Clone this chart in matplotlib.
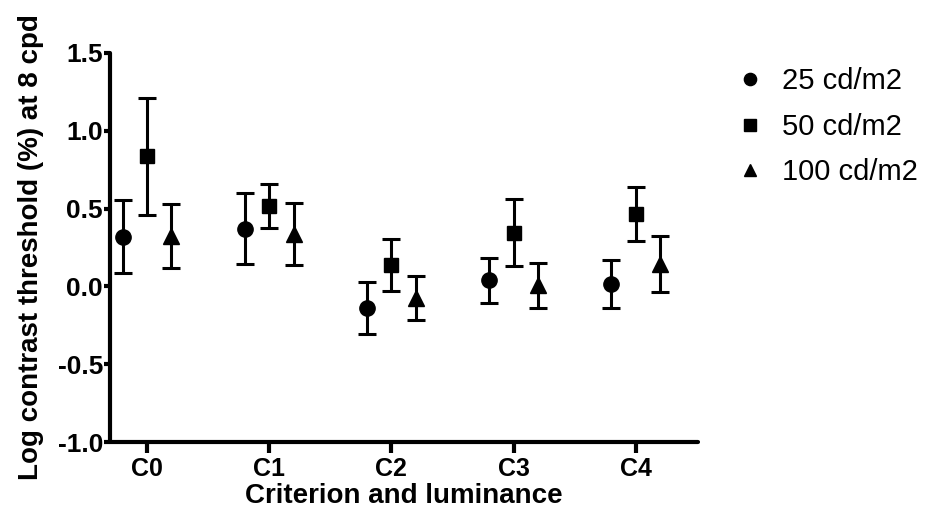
import matplotlib
matplotlib.use("Agg")
import matplotlib.pyplot as plt
import numpy as np

plt.rcParams['font.family'] = ['Liberation Sans', 'DejaVu Sans']

criteria = ["C0", "C1", "C2", "C3", "C4"]
series_labels = ["25 cd/m2", "50 cd/m2", "100 cd/m2"]

mean_25 = [0.32, 0.37, -0.14, 0.04, 0.015]
err_25 = [0.235, 0.228, 0.169, 0.144, 0.156]

mean_50 = [0.835, 0.515, 0.136, 0.345, 0.465]
err_50 = [0.378, 0.14, 0.168, 0.215, 0.175]

mean_100 = [0.325, 0.335, -0.074, 0.008, 0.147]
err_100 = [0.206, 0.2, 0.142, 0.144, 0.18]

yticks = [-1.0, -0.5, 0.0, 0.5, 1.0, 1.5]
ytick_labels = ["-1.0", "-0.5", "0.0", "0.5", "1.0", "1.5"]

fig = plt.figure(figsize=(9.29, 5.27), dpi=100)
ax = fig.add_axes([110 / 929, 1 - 442 / 527, (698 - 110) / 929, (442 - 53) / 527])

x = np.arange(len(criteria))
offsets = [-0.2, 0.0, 0.2]
markers = ["o", "s", "^"]
sizes = [11, 10.5, 11]
handles = []
for means, errs, off, mk, ms, lab in zip(
        [mean_25, mean_50, mean_100], [err_25, err_50, err_100],
        offsets, markers, sizes, series_labels):
    ax.errorbar(x + off, means, yerr=errs, fmt=mk, color="black",
                markersize=ms, elinewidth=2.2, capsize=6.2, capthick=2.2,
                label=lab)
    handles.append(ax.plot([], [], mk, color="black", markersize=ms * 0.8, label=lab)[0])

ax.set_xlim(-0.303, 4.51)
ax.set_ylim(-1.0, 1.5)
ax.set_xticks(x)
ax.set_xticklabels(criteria)
ax.set_yticks(yticks)
ax.set_yticklabels(ytick_labels)

for side in ["top", "right"]:
    ax.spines[side].set_visible(False)
for side in ["left", "bottom"]:
    ax.spines[side].set_linewidth(3)
    ax.spines[side].set_capstyle("round")

ax.tick_params(axis="y", direction="out", length=4, width=3, labelsize=19, pad=1)
ax.tick_params(axis="x", direction="out", length=8, width=3, labelsize=18, pad=3)
for lbl in ax.get_xticklabels() + ax.get_yticklabels():
    lbl.set_fontweight("bold")

ax.set_xlabel("Criterion and luminance", fontsize=20, fontweight="bold", labelpad=1.5)
ax.set_ylabel("Log contrast threshold (%) at 8 cpd", fontsize=20, fontweight="bold", labelpad=10)

fig.legend(handles=handles, labels=series_labels, loc="upper left",
           bbox_to_anchor=(709 / 929, 1 - 41 / 527), frameon=False,
           fontsize=21, handlelength=1.0, handletextpad=0.6, labelspacing=0.6)

fig.savefig("out.png", dpi=100)
